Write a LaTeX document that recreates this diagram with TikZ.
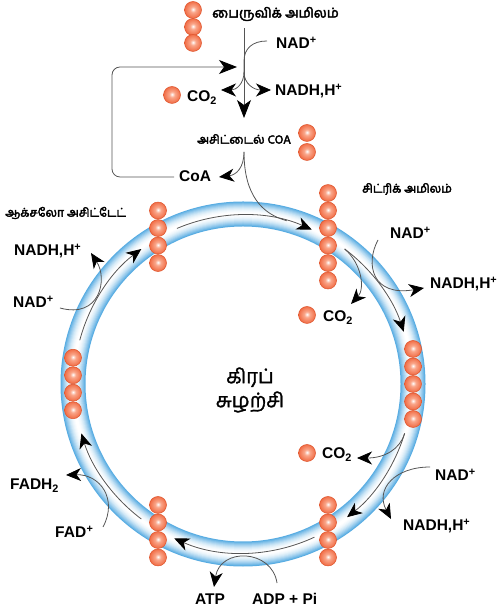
\documentclass[tikz,border=0pt]{standalone}
\usepackage{fontspec}
\setmainfont{Liberation Sans}
\newfontfamily\tamil[Script=Tamil,FakeBold=3]{Hind Madurai}
\newfontfamily\tamilreg[Script=Tamil,FakeBold=1.5]{Hind Madurai}
\usetikzlibrary{arrows.meta,calc}

\definecolor{tubeblue}{RGB}{88,172,226}
\definecolor{orbmain}{RGB}{240,104,64}
\definecolor{orbedge}{RGB}{222,84,44}
\definecolor{orbmid}{RGB}{250,168,140}
\definecolor{wirecol}{RGB}{85,85,85}
\pgfdeclareradialshading{orb}{\pgfpoint{0bp}{2bp}}{color(0bp)=(white); color(8bp)=(orbmid); color(26bp)=(orbmain); color(50bp)=(orbedge)}

\tikzset{
  lbl/.style={font=\bfseries\fontsize{15.5}{16}\selectfont, inner sep=0pt, anchor=west, text height=11.5pt, text depth=0pt},
  tlbl/.style={font=\tamil\fontsize{12}{14}\selectfont, inner sep=0pt, anchor=west},
  wire/.style={draw=wirecol, line width=0.8pt},
  bigtip/.style={wire, -{Stealth[length=18pt,width=14pt,inset=5pt,color=black]}},
  tip/.style={wire, -{Stealth[length=15pt,width=13pt,inset=4.5pt,color=black]}},
  orbball/.style={draw=orbedge, line width=0.5pt, shading=orb}
}

\begin{document}
\begin{tikzpicture}[x=1pt,y=1pt]
\useasboundingbox (0,0) rectangle (500,609);
\coordinate (C) at (243,225);

% tube of the cycle
\foreach \w/\c in {25/0,23/14,21/28,19/40,17/52,15/63,13/73,11/81,9/88,7/93,5/97,3/100}
  \draw[line width=\w pt, white!\c!tubeblue] (C) circle (170);

% labels
\node[tlbl, font=\tamil\fontsize{13.5}{14}\selectfont] (pyr) at (212,595) {பைருவிக் அமிலம்};
\node[lbl] (nadA) at (276,566) {NAD\textsuperscript{+}};
\node[lbl] (co2A) at (187,513) {CO\textsubscript{2}};
\node[lbl] (nadhA) at (275,519) {NADH,H\textsuperscript{+}};
\node[tlbl] (acet) at (197,470) {அசிட்டைல் COA};
\node[lbl] (coa) at (179,433) {CoA};
\node[tlbl] (cit) at (362,420) {சிட்ரிக் அமிலம்};
\node[tlbl] (oxa) at (5,396) {ஆக்சலோ அசிட்டேட்};
\node[lbl] (nadhL) at (14,359) {NADH,H\textsuperscript{+}};
\node[lbl] (nadL) at (13,307) {NAD\textsuperscript{+}};
\node[lbl] (nadR) at (390,376) {NAD\textsuperscript{+}};
\node[lbl] (nadhR) at (430,326) {NADH,H\textsuperscript{+}};
\node[lbl] (co2R) at (323,293) {CO\textsubscript{2}};
\node[font=\tamilreg\fontsize{20}{24}\selectfont, align=center, inner sep=0pt] (krebs) at (250,219) {கிரப்\\சுழற்சி};
\node[lbl] (co2S) at (322,156) {CO\textsubscript{2}};
\node[lbl] (nadS) at (435,134) {NAD\textsuperscript{+}};
\node[lbl] (nadhS) at (403,84) {NADH,H\textsuperscript{+}};
\node[lbl] (adp) at (252,10) {ADP + Pi};
\node[lbl] (atp) at (195,10) {ATP};
\node[lbl] (fadh) at (10,125) {FADH\textsubscript{2}};
\node[lbl] (fad) at (55,77) {FAD\textsubscript{}\textsuperscript{+}};

% top: pyruvate to acetyl CoA
\coordinate (v0) at (244,581);
\coordinate (v1) at (244,491);
\coordinate (n0) at (267,568);
\coordinate (nb) at (244,537);
\coordinate (co2tip) at (221,519);
\coordinate (nadhtip) at (271,519);
\coordinate (l0) at (174,432);
\coordinate (l1) at (237,542);
\coordinate (a0) at (244,457);
\coordinate (coatip) at (219,432);
\draw[bigtip] (v0) -- (v1);
\draw[wire] (n0) .. controls (252,568) and (244,560) .. (244,548) -- (nb);
\draw[tip] (nb) .. controls (244,525) and (236,519) .. (co2tip);
\draw[tip] (nb) .. controls (244,525) and (254,519) .. (nadhtip);
\draw[bigtip, rounded corners=8pt] (l0) -- (112,432) -- (112,542) -- (l1);
\draw[tip] (a0) .. controls (244,441) and (236,434) .. (coatip);
\draw[wire] (a0) .. controls (244,414) and (262,395) .. ($(C)+(75:169)$);

% steps along the cycle
\foreach \s/\e in {113/66,53/18,-17/-52,-65/-114,-127/-163,165/127}
  \draw[tip] ($(C)+(\s:169)$) arc[start angle=\s, end angle=\e, radius=169];

% side reactions
\coordinate (T2) at ($(C)+(53:169)$);
\coordinate (T3) at ($(C)+(-17:169)$);
\coordinate (nl0) at (60,301);
\coordinate (nl1) at (91,356);
\coordinate (nr0) at (378,369);
\coordinate (nr1) at (424,321);
\coordinate (cr1) at (351,305);
\coordinate (cs1) at (357,151);
\coordinate (ns0) at (430,142);
\coordinate (ns1) at (391,90);
\coordinate (ad0) at (277,26);
\coordinate (ad1) at (214,22);
\coordinate (fd0) at (103,82);
\coordinate (fd1) at (66,134);
\draw[tip] (nl0) .. controls (100,290) and (108,330) .. (nl1);
\draw[tip] (nr0) .. controls (365,345) and (372,312) .. (nr1);
\draw[tip] (T2) .. controls (362,345) and (365,320) .. (cr1);
\draw[tip] (T3) .. controls (400,160) and (385,151) .. (cs1);
\draw[tip] (ns0) .. controls (395,142) and (375,120) .. (ns1);
\draw[tip] (ad0) .. controls (272,60) and (220,62) .. (ad1);
\draw[tip] (fd0) .. controls (118,110) and (100,135) .. (fd1);

% molecules
\foreach \y in {599,582,566}
  \path[orbball] (193,\y) circle (8.5);
\foreach \p in {(172,514),(307,476),(307,457),(307,294),(307,156)}
  \path[orbball] \p circle (8.5);
\foreach \a/\n in {120/4,60/6,0/5,-60/4,-120/4,180/4}
  \foreach \k in {1,...,\n}
    \path[orbball] ($(C)+(\a:170)+(0,{((\n+1)/2-\k)*17.5})$) circle (8.5);
\end{tikzpicture}
\end{document}
